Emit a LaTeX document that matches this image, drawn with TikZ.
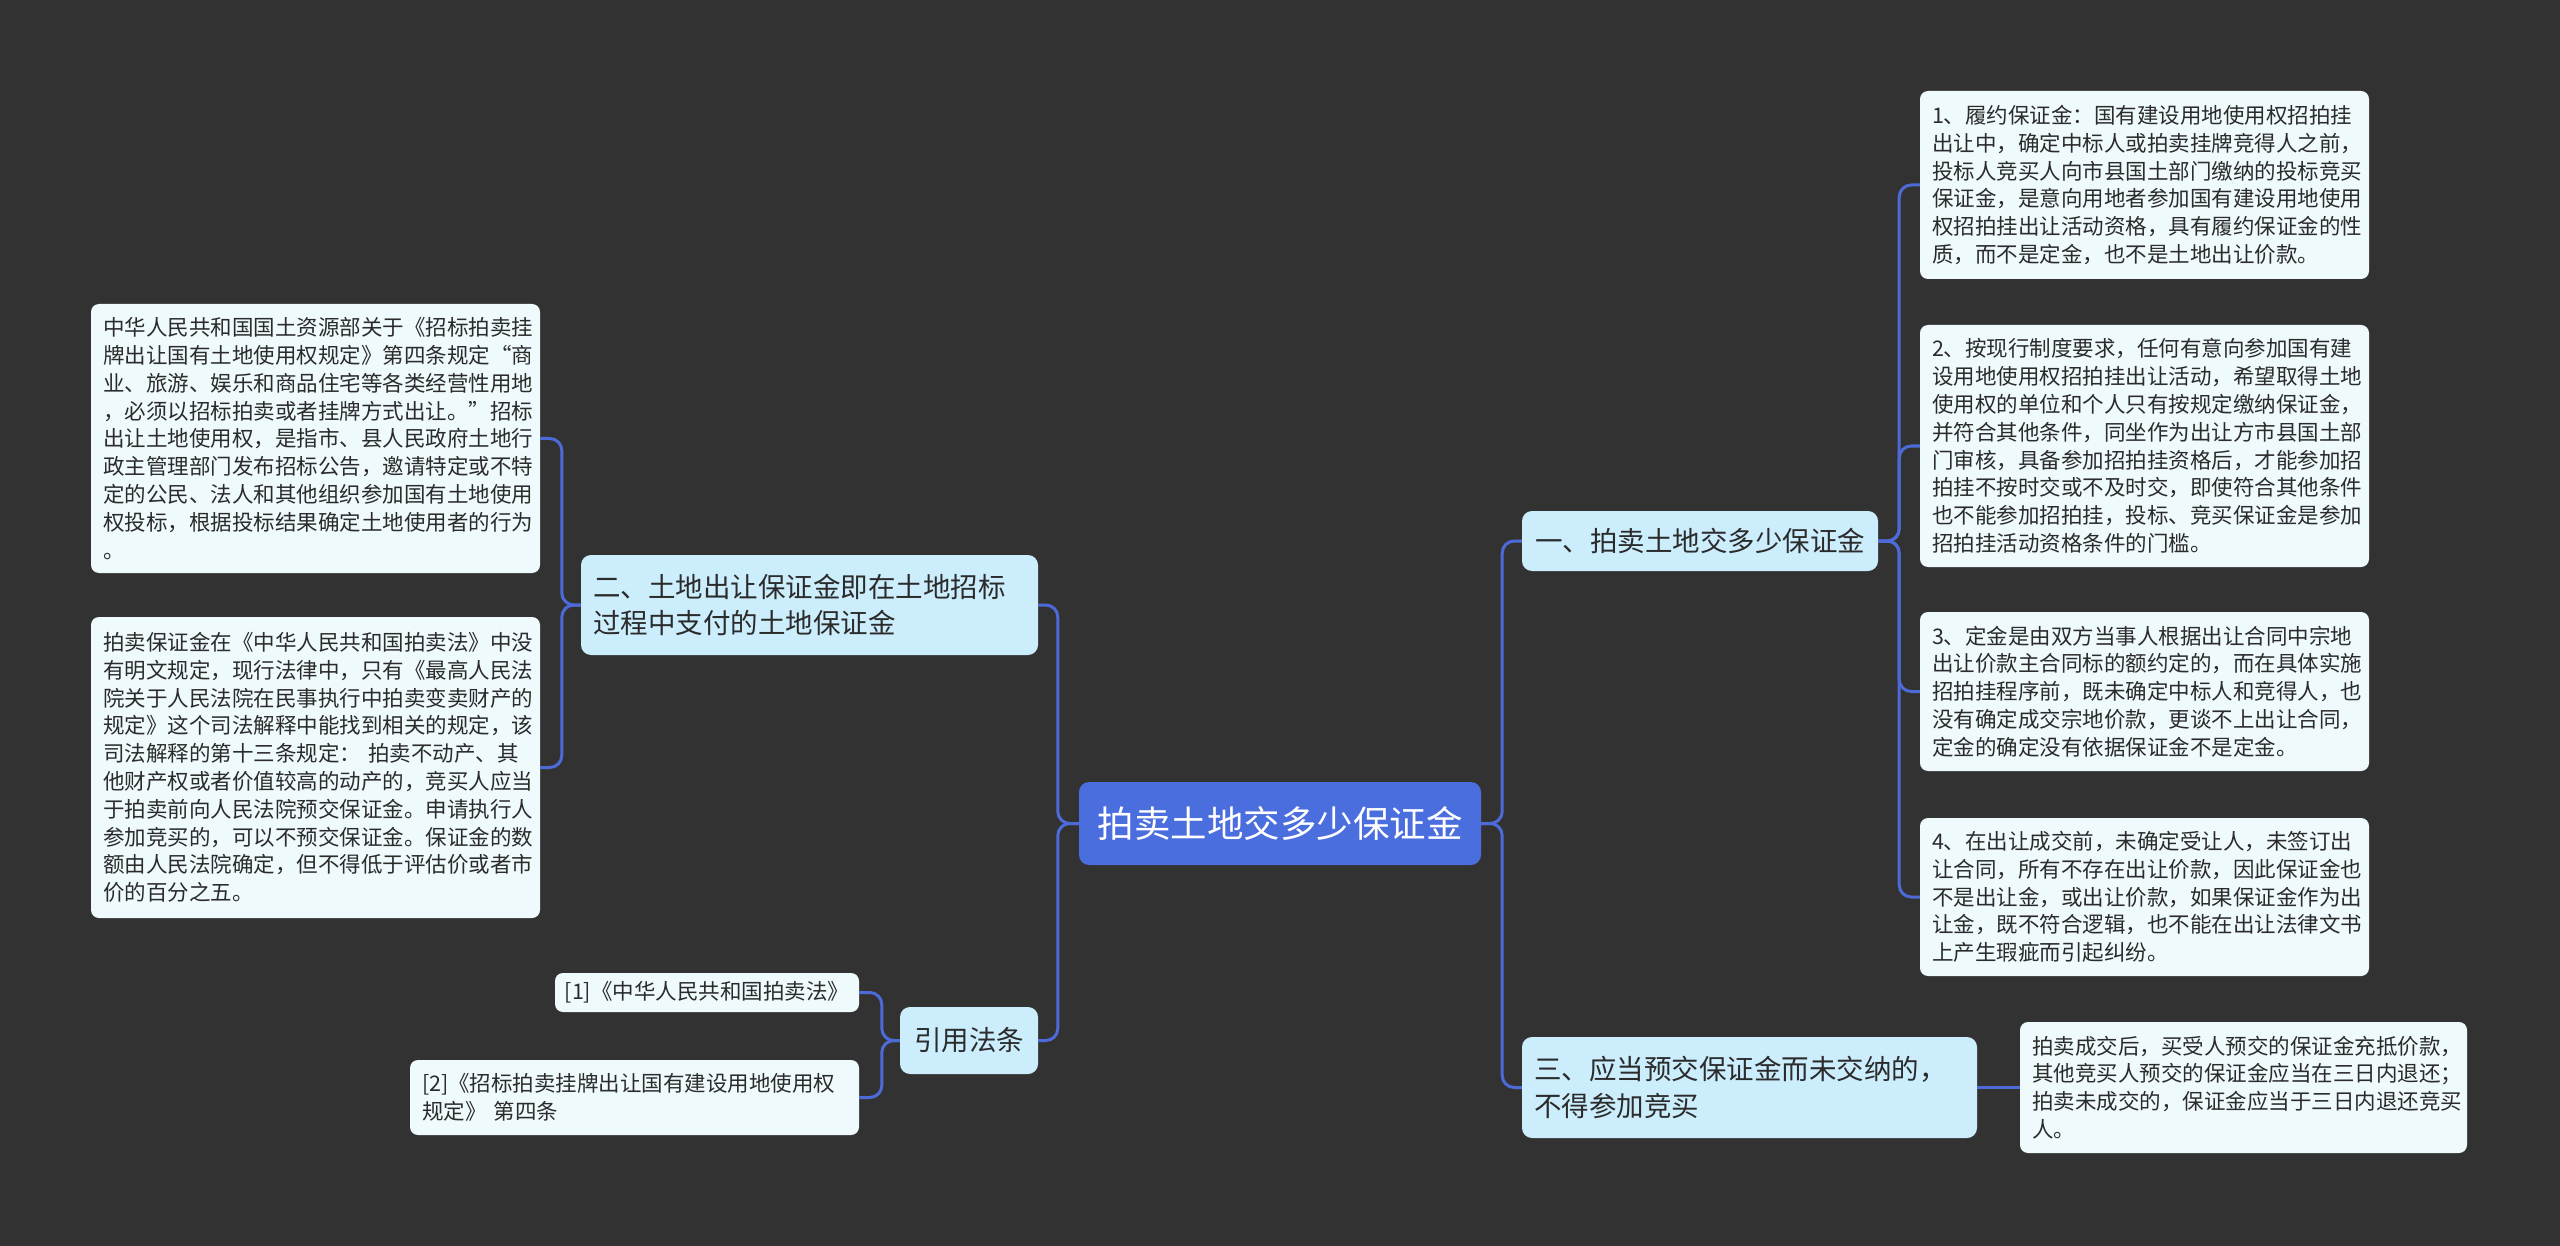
\documentclass[tikz,border=0pt]{standalone}
\usepackage{fontspec}
\newfontfamily\cjk{Noto Sans CJK SC}
\definecolor{bgc}{HTML}{333232}
\definecolor{rootc}{HTML}{4B6EDE}
\definecolor{linec}{HTML}{4D6BD8}
\definecolor{lvlc}{HTML}{CBEDFC}
\definecolor{leafc}{HTML}{EFFAFD}
\definecolor{txt}{HTML}{2B2B2B}
\begin{document}
\begin{tikzpicture}[x=1pt,y=-1pt,
  box/.style={rounded corners=8pt, align=left, inner xsep=12pt, inner ysep=0pt, text=txt},
  leaf/.style={box, fill=leafc, font=\cjk\fontsize{21.5}{27.8}\selectfont},
  lvl/.style={box, fill=lvlc, rounded corners=10pt, font=\cjk\fontsize{27.5}{36.5}\selectfont},
  rootst/.style={fill=rootc, text=white, rounded corners=10pt, align=center, inner sep=0pt, font=\cjk\fontsize{36.5}{44}\selectfont},
  conn/.style={draw=linec, line width=3pt, rounded corners=12pt}]
\fill[bgc] (0,0) rectangle (2560,1246);
\useasboundingbox (0,0) rectangle (2560,1246);

% root
\node[rootst, minimum width=402pt, minimum height=83pt] (root) at (1280,823.5) {拍卖土地交多少保证金};

% level 1
\node[lvl, align=center, minimum width=356pt, minimum height=60pt, inner xsep=0pt] (n1) at (1700,541) {一、拍卖土地交多少保证金};
\node[lvl, text width=431pt, minimum height=101pt] (n3) at (1749.5,1087.5) {三、应当预交保证金而未交纳的，\\不得参加竞买};
\node[lvl, text width=433pt, minimum height=100pt] (n2) at (809.5,605) {二、土地出让保证金即在土地招标\\过程中支付的土地保证金};
\node[lvl, align=center, minimum width=138pt, minimum height=67pt, inner xsep=0pt] (law) at (969,1040.5) {引用法条};

% right leaves
\node[leaf, text width=425pt, minimum height=188pt] (b1) at (2144.5,185) {1、履约保证金：国有建设用地使用权招拍挂\\出让中，确定中标人或拍卖挂牌竞得人之前，\\投标人竞买人向市县国土部门缴纳的投标竞买\\保证金，是意向用地者参加国有建设用地使用\\权招拍挂出让活动资格，具有履约保证金的性\\质，而不是定金，也不是土地出让价款。};
\node[leaf, text width=425pt, minimum height=242pt] (b2) at (2144.5,446) {2、按现行制度要求，任何有意向参加国有建\\设用地使用权招拍挂出让活动，希望取得土地\\使用权的单位和个人只有按规定缴纳保证金，\\并符合其他条件，同坐作为出让方市县国土部\\门审核，具备参加招拍挂资格后，才能参加招\\拍挂不按时交或不及时交，即使符合其他条件\\也不能参加招拍挂，投标、竞买保证金是参加\\招拍挂活动资格条件的门槛。};
\node[leaf, text width=425pt, minimum height=159pt] (b3) at (2144.5,691.5) {3、定金是由双方当事人根据出让合同中宗地\\出让价款主合同标的额约定的，而在具体实施\\招拍挂程序前，既未确定中标人和竞得人，也\\没有确定成交宗地价款，更谈不上出让合同，\\定金的确定没有依据保证金不是定金。};
\node[leaf, text width=425pt, minimum height=158pt] (b4) at (2144.5,897) {4、在出让成交前，未确定受让人，未签订出\\让合同，所有不存在出让价款，因此保证金也\\不是出让金，或出让价款，如果保证金作为出\\让金，既不符合逻辑，也不能在出让法律文书\\上产生瑕疵而引起纠纷。};
\node[leaf, text width=423pt, minimum height=131pt] (b5) at (2243.5,1087.5) {拍卖成交后，买受人预交的保证金充抵价款，\\其他竞买人预交的保证金应当在三日内退还；\\拍卖未成交的，保证金应当于三日内退还竞买\\人。};

% left leaves
\node[leaf, text width=425pt, minimum height=269pt] (l1) at (315.5,438.5) {中华人民共和国国土资源部关于《招标拍卖挂\\牌出让国有土地使用权规定》第四条规定“商\\业、旅游、娱乐和商品住宅等各类经营性用地\\，必须以招标拍卖或者挂牌方式出让。”招标\\出让土地使用权，是指市、县人民政府土地行\\政主管理部门发布招标公告，邀请特定或不特\\定的公民、法人和其他组织参加国有土地使用\\权投标，根据投标结果确定土地使用者的行为\\。};
\node[leaf, text width=425pt, minimum height=301pt] (l2) at (315.5,767.5) {拍卖保证金在《中华人民共和国拍卖法》中没\\有明文规定，现行法律中，只有《最高人民法\\院关于人民法院在民事执行中拍卖变卖财产的\\规定》这个司法解释中能找到相关的规定，该\\司法解释的第十三条规定： 拍卖不动产、其\\他财产权或者价值较高的动产的，竞买人应当\\于拍卖前向人民法院预交保证金。申请执行人\\参加竞买的，可以不预交保证金。保证金的数\\额由人民法院确定，但不得低于评估价或者市\\价的百分之五。};
\node[leaf, align=center, minimum width=304pt, minimum height=39pt, inner xsep=0pt] (r1) at (707,992.5) {[1]《中华人民共和国拍卖法》};
\node[leaf, text width=425pt, minimum height=75pt] (r2) at (634.5,1097.5) {[2]《招标拍卖挂牌出让国有建设用地使用权\\规定》 第四条};

% connectors
\draw[conn] (root.east) -- ++(21,0) |- (n1.west);
\draw[conn] (root.east) -- ++(21,0) |- (n3.west);
\draw[conn] (root.west) -- ++(-21,0) |- (n2.east);
\draw[conn] (root.west) -- ++(-21,0) |- (law.east);
\draw[conn] (n1.east) -- ++(21,0) |- (b1.west);
\draw[conn] (n1.east) -- ++(21,0) |- (b2.west);
\draw[conn] (n1.east) -- ++(21,0) |- (b3.west);
\draw[conn] (n1.east) -- ++(21,0) |- (b4.west);
\draw[conn] (n3.east) -- (b5.west);
\draw[conn] (n2.west) -- ++(-19,0) |- (l1.east);
\draw[conn] (n2.west) -- ++(-19,0) |- (l2.east);
\draw[conn] (law.west) -- ++(-18,0) |- (r1.east);
\draw[conn] (law.west) -- ++(-18,0) |- (r2.east);
\end{tikzpicture}
\end{document}
